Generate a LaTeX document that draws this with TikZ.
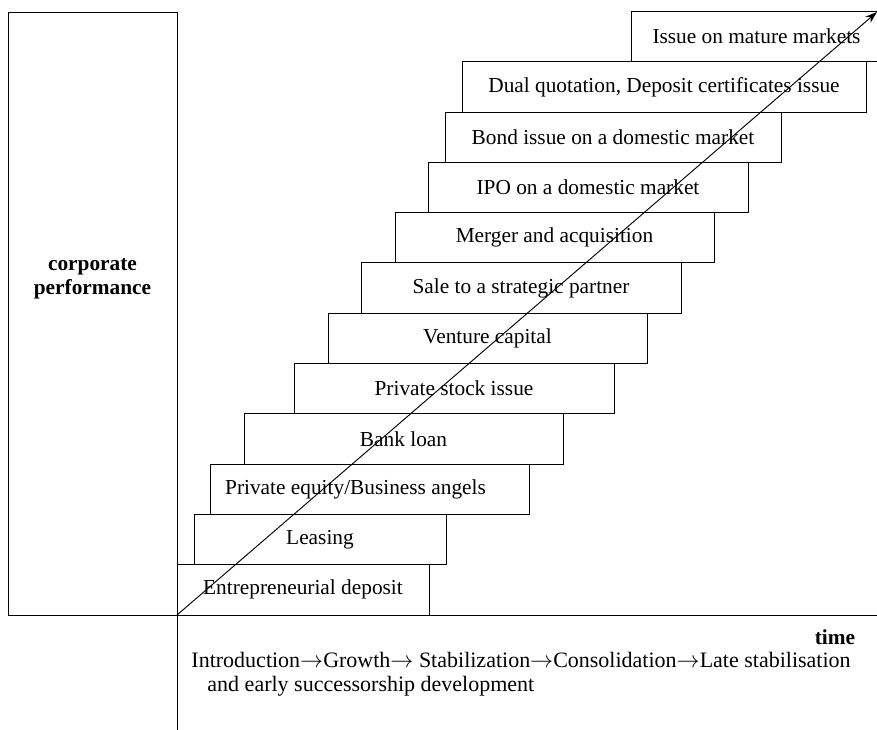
\documentclass[tikz,border=0pt]{standalone}
\usepackage{fontspec}
\setmainfont{Liberation Serif}
\usetikzlibrary{arrows.meta}
\tikzset{stepbox/.style={draw, inner sep=0pt, minimum height=37.7pt}}
\newcommand{\phasearrow}{$\rightarrow$}

\begin{document}
\begin{tikzpicture}[x=.75pt,y=-.75pt,line width=.7pt,font=\fontsize{16}{18}\selectfont]
\useasboundingbox (0,0) rectangle (877,730);
% performance box and axes
\draw (8,12) rectangle (177,615);
\node[font=\fontsize{16}{18}\selectfont\bfseries,align=center] (perf) at (92.5,279) {corporate\\performance};
\coordinate (O) at (177,615);
\coordinate (xend) at (877,615);
\coordinate (ybot) at (177,730);
\draw (O)--(xend);
\draw (O)--(ybot);
% the stairs
\foreach \l/\r/\dx/\txt [count=\i] in {177/429/0/{Entrepreneurial deposit}, 194/446/0/{Leasing},
 210/529/-14/{Private equity/Business angels}, 244/563/0/{Bank loan}, 294/614/0/{Private stock issue},
 328/647/0/{Venture capital}, 361/681/0/{Sale to a strategic partner}, 395/714/0/{Merger and acquisition},
 428/748/0/{IPO on a domestic market}, 445/781/0/{Bond issue on a domestic market},
 462/866/0/{Dual quotation, Deposit certificates issue}, 631/882/0/{Issue on mature markets}} {
 \node[stepbox,minimum width={(\r-\l)*.75pt}] (st\i) at ({(\l+\r)/2},{589.85-(\i-1)*50.3}) {};
 \node (lb\i) at ([xshift=\dx*.75pt]st\i.center) {\txt};
 }
\coordinate (tip) at (877,12);
\draw[->,>={Stealth[length=9pt,width=6pt]}] (O)--(tip);
\node[font=\fontsize{16}{18}\selectfont\bfseries] (time) at (835,637) {time};
\node[align=left,anchor=north west,inner sep=0pt,font=\fontsize{16.5}{18}\selectfont] (phases) at (191,652) {Introduction\phasearrow Growth\phasearrow{} Stabilization\phasearrow Consolidation\phasearrow Late stabilisation\\\hspace*{12pt}and early successorship development};
\end{tikzpicture}
\end{document}
